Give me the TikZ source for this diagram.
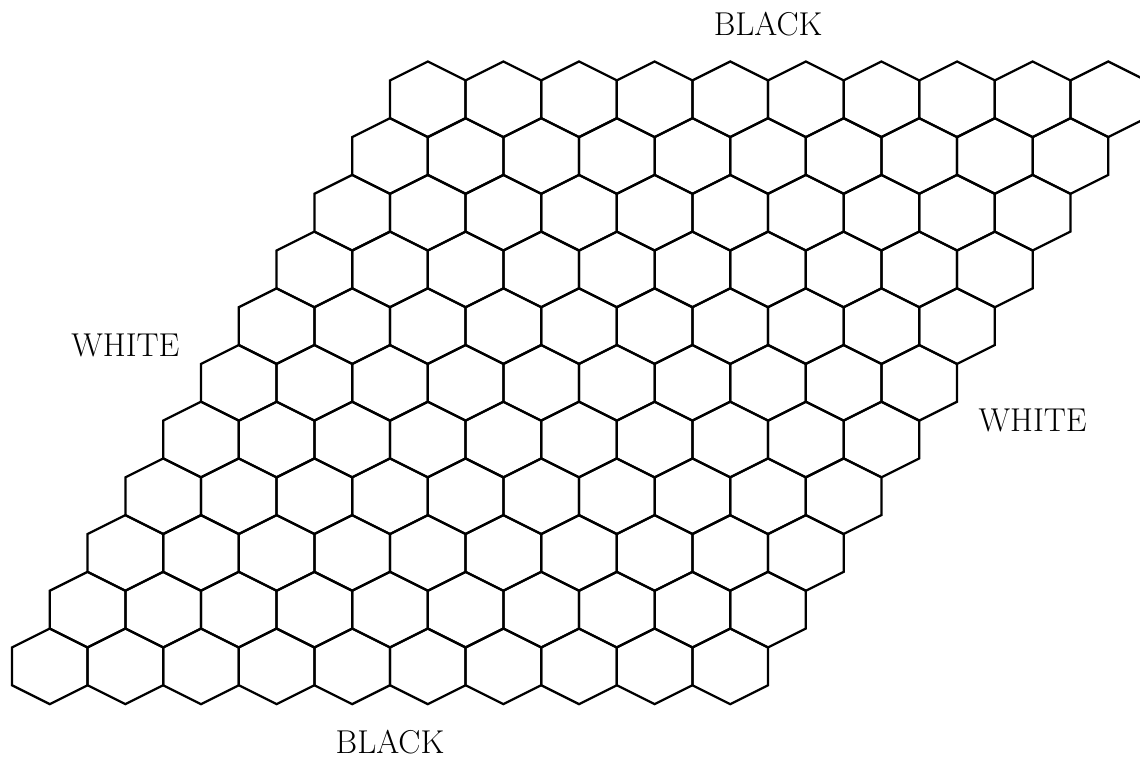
\documentclass[tikz,border=0pt]{standalone}
\usepackage{tikz}
\begin{document}
\begin{tikzpicture}[x=1cm,y=1cm,every node/.style={font=\Huge}]
\useasboundingbox (-1.317,-2.452) rectangle (28.84,17.627);
% board: 11 rows of 10 cells
\foreach \r in {0,...,10}
  \foreach \c in {0,...,9}
    \draw[line width=1.7pt] ({2*\c+\r},{1.5*\r}) ++(0,1) -- ++(1,-0.5) -- ++(0,-1)
      -- ++(-1,-0.5) -- ++(-1,0.5) -- ++(0,1) -- cycle;
\node (blacktop) at (19,17) {BLACK};
\node (blackbottom) at (9,-2) {BLACK};
\node (whiteleft) at (2,8.5) {WHITE};
\node (whiteright) at (26,6.5) {WHITE};
\end{tikzpicture}
\end{document}
